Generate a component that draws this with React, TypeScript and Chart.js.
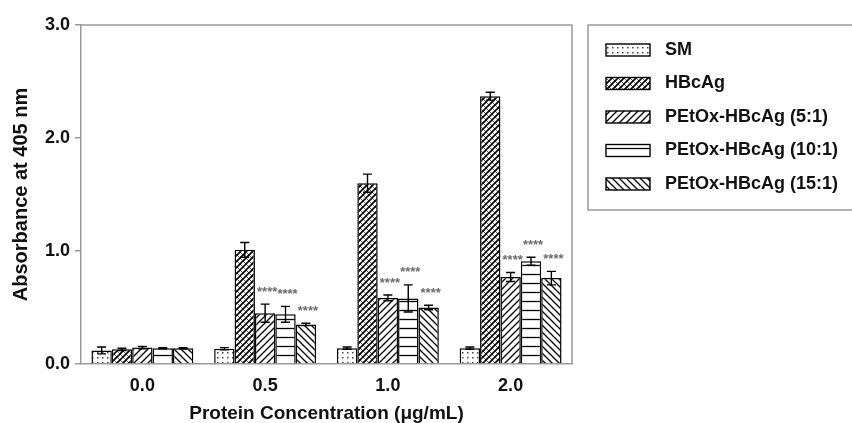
import React, { useEffect, useRef } from "react";
import { Chart, registerables } from "chart.js";

Chart.register(...registerables);

// ---------- data ----------
const categories = ["0.0", "0.5", "1.0", "2.0"];
const seriesLabels = [
  "SM",
  "HBcAg",
  "PEtOx-HBcAg (5:1)",
  "PEtOx-HBcAg (10:1)",
  "PEtOx-HBcAg (15:1)",
];
const smValues = [0.12, 0.135, 0.14, 0.14];
const smErrors = [0.03, 0.01, 0.01, 0.01];
const hbcValues = [0.13, 1.01, 1.6, 2.37];
const hbcErrors = [0.01, 0.065, 0.08, 0.035];
const p5Values = [0.145, 0.45, 0.585, 0.77];
const p5Errors = [0.01, 0.08, 0.025, 0.04];
const p10Values = [0.14, 0.44, 0.58, 0.91];
const p10Errors = [0.005, 0.07, 0.12, 0.035];
const p15Values = [0.14, 0.35, 0.5, 0.76];
const p15Errors = [0.005, 0.01, 0.02, 0.06];
const p5Sig = ["", "****", "****", "****"];
const p10Sig = ["", "****", "****", "****"];
const p15Sig = ["", "****", "****", "****"];
const yTickValues = [0, 1, 2, 3];

const FONT = "'Liberation Sans', Arial, Helvetica, sans-serif";
const GREY = "#9a9a9a";
const TEXT = "#111111";

function makePattern(ctx: CanvasRenderingContext2D, kind: string): CanvasPattern {
  const c = document.createElement("canvas");
  let w = 7, h = 7;
  if (kind === "dots") { w = 5; h = 5; }
  if (kind === "hbc") { w = 6; h = 6; }
  if (kind === "horiz") { w = 6; h = 9; }
  c.width = w; c.height = h;
  const g = c.getContext("2d")!;
  g.fillStyle = "#fff";
  g.fillRect(0, 0, w, h);
  g.strokeStyle = "#000";
  g.lineCap = "square";
  const diag = (dir: number, lw: number, col: string) => {
    g.strokeStyle = col;
    g.lineWidth = lw;
    g.beginPath();
    if (dir > 0) {
      g.moveTo(-1, 1); g.lineTo(1, -1);
      g.moveTo(0, h); g.lineTo(w, 0);
      g.moveTo(w - 1, h + 1); g.lineTo(w + 1, h - 1);
    } else {
      g.moveTo(-1, h - 1); g.lineTo(1, h + 1);
      g.moveTo(0, 0); g.lineTo(w, h);
      g.moveTo(w - 1, -1); g.lineTo(w + 1, 1);
    }
    g.stroke();
  };
  if (kind === "dots") {
    g.fillStyle = "#444";
    g.fillRect(2, 2, 1.5, 1.5);
  } else if (kind === "hbc") {
    diag(-1, 0.9, "#555");
    diag(1, 1.6, "#000");
  } else if (kind === "fwd") {
    diag(1, 1.3, "#000");
  } else if (kind === "back") {
    diag(-1, 1.3, "#000");
  } else if (kind === "horiz") {
    g.lineWidth = 1.3;
    g.beginPath();
    g.moveTo(0, 4.5); g.lineTo(w, 4.5);
    g.stroke();
  }
  return ctx.createPattern(c, "repeat")!;
}

const errorBarsPlugin = {
  id: "errorBars",
  afterDatasetsDraw(chart: any) {
    const { ctx } = chart;
    const y = chart.scales.y;
    ctx.save();
    ctx.strokeStyle = "#000";
    ctx.lineWidth = 1.4;
    chart.data.datasets.forEach((ds: any, di: number) => {
      const meta = chart.getDatasetMeta(di);
      meta.data.forEach((el: any, i: number) => {
        const v = ds.data[i];
        const e = ds.errors[i];
        const yt = y.getPixelForValue(v + e);
        const yb = y.getPixelForValue(v - e);
        const x = el.x;
        ctx.beginPath();
        ctx.moveTo(x, yt); ctx.lineTo(x, yb);
        ctx.moveTo(x - 4.5, yt); ctx.lineTo(x + 4.5, yt);
        ctx.moveTo(x - 4.5, yb); ctx.lineTo(x + 4.5, yb);
        ctx.stroke();
        const s = ds.sig ? ds.sig[i] : "";
        if (s) {
          ctx.fillStyle = "#6a6a6a";
          ctx.font = `bold 13px ${FONT}`;
          ctx.textAlign = "center";
          ctx.textBaseline = "middle";
          ctx.fillText(s, x + 2, yt - 12);
        }
      });
    });
    ctx.restore();
  },
};

const framePlugin = {
  id: "frameAndLegend",
  afterDraw(chart: any) {
    const { ctx, chartArea } = chart;
    ctx.save();
    ctx.strokeStyle = GREY;
    ctx.lineWidth = 1.5;
    ctx.beginPath();
    ctx.moveTo(chartArea.left, chartArea.top);
    ctx.lineTo(chartArea.right, chartArea.top);
    ctx.lineTo(chartArea.right, chartArea.bottom);
    ctx.stroke();
    // legend box
    const lx = chartArea.right + 16;
    const ly = chartArea.top;
    ctx.strokeRect(lx, ly, 300, 185);
    chart.data.datasets.forEach((ds: any, i: number) => {
      const cy = ly + 25 + i * 33.5;
      ctx.fillStyle = ds.backgroundColor;
      ctx.fillRect(lx + 18, cy - 6, 44, 12);
      ctx.strokeStyle = "#000";
      ctx.lineWidth = 1.4;
      ctx.strokeRect(lx + 18, cy - 6, 44, 12);
      ctx.fillStyle = TEXT;
      ctx.font = `bold 18px ${FONT}`;
      ctx.textAlign = "left";
      ctx.textBaseline = "middle";
      ctx.fillText(ds.label, lx + 77, cy);
    });
    ctx.restore();
  },
};

export default function App() {
  const ref = useRef<HTMLCanvasElement | null>(null);
  useEffect(() => {
    const canvas = ref.current!;
    const ctx = canvas.getContext("2d")!;
    const kinds = ["dots", "hbc", "fwd", "horiz", "back"];
    const values = [smValues, hbcValues, p5Values, p10Values, p15Values];
    const errors = [smErrors, hbcErrors, p5Errors, p10Errors, p15Errors];
    const sigs = [null, null, p5Sig, p10Sig, p15Sig];
    const chart = new Chart(canvas, {
      type: "bar",
      data: {
        labels: categories,
        datasets: seriesLabels.map((label, i) => ({
          label,
          data: values[i],
          errors: errors[i],
          sig: sigs[i],
          backgroundColor: makePattern(ctx, kinds[i]),
          borderColor: "#000",
          borderWidth: 1.5,
          categoryPercentage: 0.83,
          barPercentage: 1.0,
        })) as any,
      },
      options: {
        animation: false,
        responsive: false,
        layout: { padding: { top: 25, right: 280, bottom: 0, left: 0 } },
        plugins: {
          legend: { display: false },
          tooltip: { enabled: false },
        },
        scales: {
          x: {
            grid: { display: false, drawTicks: false },
            border: { display: true, color: GREY, width: 1.5 },
            ticks: {
              color: TEXT,
              font: { family: FONT, size: 18, weight: "bold" },
              padding: 11,
            },
            title: {
              display: true,
              text: "Protein Concentration (μg/mL)",
              color: TEXT,
              font: { family: FONT, size: 19, weight: "bold", lineHeight: 1.0 },
              padding: { top: 0, bottom: 0 },
            },
            afterFit(scale: any) {
              scale.height = 59;
            },
          },
          y: {
            min: 0,
            max: 3,
            afterBuildTicks(scale: any) {
              scale.ticks = yTickValues.map((v) => ({ value: v }));
            },
            grid: {
              drawOnChartArea: false,
              drawTicks: true,
              tickLength: 6,
              color: GREY,
              lineWidth: 1.5,
            },
            border: { display: true, color: GREY, width: 1.5 },
            ticks: {
              color: TEXT,
              font: { family: FONT, size: 18, weight: "bold" },
              padding: 5,
              callback: (v: any) => Number(v).toFixed(1),
            },
            title: {
              display: true,
              text: "Absorbance at 405 nm",
              color: TEXT,
              font: { family: FONT, size: 20, weight: "bold" },
              padding: { top: 9, bottom: 0 },
            },
            afterFit(scale: any) {
              scale.width = 81;
            },
          },
        },
      } as any,
      plugins: [errorBarsPlugin, framePlugin],
    });
    return () => chart.destroy();
  }, []);
  return (
    <div style={{ position: "fixed", left: 0, top: 0, width: 852, height: 423, background: "#fff" }}>
      <canvas ref={ref} width={852} height={423} style={{ display: "block" }} />
    </div>
  );
}
